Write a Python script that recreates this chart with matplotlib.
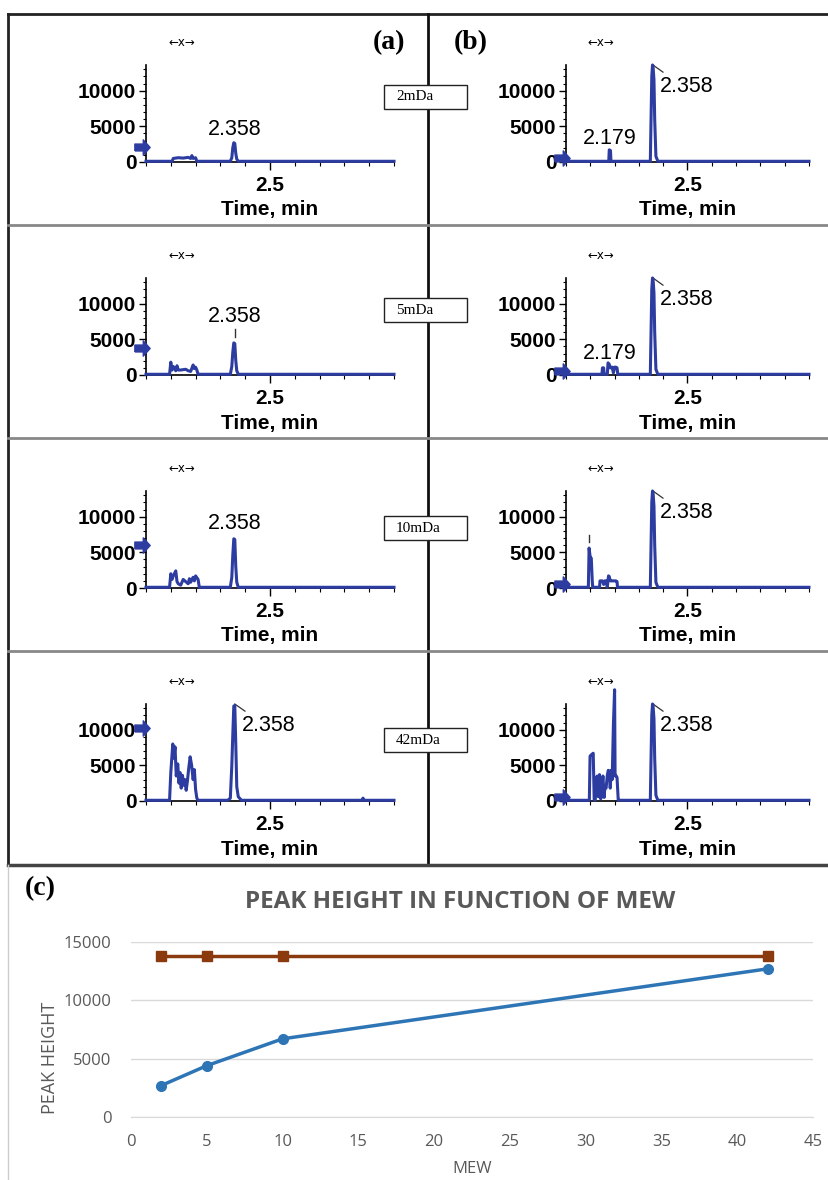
import matplotlib
matplotlib.use("Agg")
import matplotlib.pyplot as plt
from matplotlib.patches import Rectangle
from matplotlib.ticker import MultipleLocator, FixedLocator

W, H = 829, 1180

# --- chromatogram traces (time, min / intensity, cps) ---
PEAK_T = [2.340, 2.346, 2.350, 2.354, 2.358, 2.362, 2.366, 2.372, 3.00]
PEAK_B_T = [2.347, 2.350, 2.353, 2.356, 2.358, 2.362, 2.365, 2.370, 2.378, 3.00]

T_A1 = [2.00, 2.105, 2.11, 2.13, 2.15, 2.17, 2.18, 2.185, 2.19, 2.20, 2.205] + PEAK_T
I_A1 = [100, 100, 500, 600, 550, 650, 500, 900, 500, 600, 100,
        100, 600, 2000, 2700, 2600, 1200, 400, 100, 100]

T_A2 = [2.00, 2.095, 2.10, 2.105, 2.11, 2.12, 2.125, 2.13, 2.14, 2.16, 2.17,
        2.18, 2.19, 2.195, 2.20, 2.205, 2.21] + PEAK_T
I_A2 = [100, 100, 1800, 700, 1200, 600, 1300, 700, 700, 800, 600,
        500, 1400, 900, 1100, 700, 100,
        100, 1200, 3200, 4500, 4400, 2000, 600, 100, 100]

T_A3 = [2.00, 2.095, 2.10, 2.105, 2.11, 2.12, 2.125, 2.13, 2.14, 2.15, 2.16,
        2.17, 2.175, 2.18, 2.19, 2.195, 2.20, 2.21, 2.215] + PEAK_T
I_A3 = [100, 100, 2000, 1200, 1700, 2400, 900, 600, 400, 1200, 900,
        600, 1300, 800, 1500, 1000, 1700, 1200, 100,
        100, 1500, 4600, 6900, 6800, 3000, 800, 100, 100]

T_A4 = [2.00, 2.095, 2.10, 2.108, 2.112, 2.117, 2.122, 2.128, 2.133, 2.137,
        2.142, 2.147, 2.152, 2.157, 2.162, 2.167, 2.172, 2.178, 2.184, 2.19,
        2.195, 2.20, 2.205, 2.21, 2.33, 2.34, 2.346, 2.350, 2.354, 2.358,
        2.362, 2.366, 2.372, 2.385, 2.87, 2.875, 2.88, 3.00]
I_A4 = [100, 100, 4000, 8000, 6000, 7600, 3500, 5200, 2500, 4000,
        1800, 3600, 2200, 3000, 1500, 2800, 4500, 6200, 5000, 3000,
        4400, 1600, 400, 100, 100, 400, 5000, 9300, 13300, 13400,
        8000, 2000, 600, 100, 100, 400, 100, 100]

PEAK_B_I = [100, 6000, 12000, 13600, 13500, 11500, 6000, 800, 100, 100]

T_B1 = [2.00, 2.176, 2.178, 2.183, 2.185] + PEAK_B_T
I_B1 = [100, 100, 1700, 1600, 100] + PEAK_B_I

T_B2 = [2.00, 2.148, 2.150, 2.155, 2.157, 2.170, 2.173, 2.178, 2.182, 2.19,
        2.195, 2.20, 2.205, 2.21, 2.213] + PEAK_B_T
I_B2 = [100, 100, 1000, 1000, 100, 100, 1700, 1500, 1000, 1100,
        300, 1100, 1100, 1000, 100] + PEAK_B_I

T_B3 = [2.00, 2.092, 2.095, 2.100, 2.104, 2.108, 2.11, 2.138, 2.14, 2.15,
        2.155, 2.16, 2.165, 2.17, 2.175, 2.178, 2.182, 2.19, 2.195, 2.205,
        2.21, 2.212] + PEAK_B_T
I_B3 = [100, 100, 5600, 4200, 4200, 1000, 100, 100, 1000, 1000,
        500, 1000, 1000, 100, 1700, 1600, 1000, 1000, 1000, 1000,
        900, 100] + PEAK_B_I

T_B4 = [2.00, 2.096, 2.099, 2.105, 2.112, 2.116, 2.12, 2.128, 2.133, 2.138,
        2.143, 2.147, 2.152, 2.157, 2.160, 2.165, 2.170, 2.174, 2.178, 2.182,
        2.186, 2.190, 2.195, 2.200, 2.202, 2.205, 2.210, 2.215, 2.218] + PEAK_B_T
I_B4 = [100, 100, 6300, 6500, 6700, 200, 100, 3500, 600, 3700,
        300, 1800, 3500, 500, 2000, 1800, 3600, 4300, 4200, 1800,
        4300, 3000, 10600, 15600, 3500, 3600, 3300, 100, 100] + PEAK_B_I

TRACES_A = [(T_A1, I_A1), (T_A2, I_A2), (T_A3, I_A3), (T_A4, I_A4)]
TRACES_B = [(T_B1, I_B1), (T_B2, I_B2), (T_B3, I_B3), (T_B4, I_B4)]
WINDOWS = ["2mDa", "5mDa", "10mDa", "42mDa"]
TRIGGER_A = [2100, 3800, 6000, 10200]   # blue arrow on the y axis
TRIGGER_B = [500, 500, 500, 500]
LABEL_A_Y = [4500, 8250, 9000, None]    # centred label over the peak

# --- panel (c): peak height vs mass extraction window ---
MEW = [2, 5, 10, 42]
HEIGHT_CAL = [2700, 4400, 6700, 12700]
HEIGHT_REF = [13800, 13800, 13800, 13800]

BLUE = "#2D3CA0"
SANS = "Liberation Sans"
SERIF = "Liberation Serif"


def rect(l, t, r, b):
    return [l / W, 1 - b / H, (r - l) / W, (b - t) / H]


fig = plt.figure(figsize=(W / 100, H / 100), dpi=100)
bg = fig.add_axes([0, 0, 1, 1])
bg.set_xlim(0, W)
bg.set_ylim(H, 0)
bg.axis("off")

# frame of the chromatogram block
bg.plot([8, W], [14, 14], color="#222", lw=2)
bg.plot([8, 8], [14, 865], color="#222", lw=2)
bg.plot([428, 428], [14, 865], color="#111", lw=2)
for y in (225, 438, 651):
    bg.plot([8, W], [y, y], color="#888", lw=2)
bg.plot([8, W], [865, 865], color="#444", lw=2.5)
bg.plot([8, 8], [865, H], color="#ccc", lw=1)

bg.text(389, 43, "(a)", family=SERIF, weight="bold", fontsize=20, ha="center", va="center")
bg.text(471, 43, "(b)", family=SERIF, weight="bold", fontsize=20, ha="center", va="center")
bg.text(40, 889, "(c)", family=SERIF, weight="bold", fontsize=20, ha="center", va="center")

ARROW = [(-1, -0.45), (0.1, -0.45), (0.1, -1), (1, 0), (0.1, 1), (0.1, 0.45), (-1, 0.45), (-1, -0.45)]


def chromatogram(ax, t, inten, trigger, lbl_y, leader):
    ax.set_facecolor("none")
    ax.plot(t, inten, color=BLUE, lw=2.2, clip_on=False, zorder=3)
    ax.set_xlim(2.0, 3.0)
    ax.set_ylim(0, 13600)
    for s in ("top", "right"):
        ax.spines[s].set_visible(False)
    for s in ("left", "bottom"):
        ax.spines[s].set_linewidth(1.2)
    ax.yaxis.set_major_locator(FixedLocator([0, 5000, 10000]))
    ax.yaxis.set_minor_locator(MultipleLocator(1000))
    ax.xaxis.set_major_locator(FixedLocator([2.5]))
    ax.xaxis.set_minor_locator(MultipleLocator(0.1))
    ax.tick_params(axis="y", which="major", length=5, width=1, pad=2)
    ax.tick_params(axis="y", which="minor", length=2.5, width=0.8)
    ax.tick_params(axis="x", which="major", length=6, width=1, pad=4)
    ax.tick_params(axis="x", which="minor", length=3, width=0.8)
    for lab in ax.get_xticklabels() + ax.get_yticklabels():
        lab.set_family(SANS)
        lab.set_weight("bold")
        lab.set_fontsize(15)
    ax.set_xlabel("Time, min", family=SANS, weight="bold", fontsize=15, va="center")
    ax.xaxis.set_label_coords(0.5, -48 / 97)
    ax.plot([-0.017], [trigger], transform=ax.get_yaxis_transform(), marker=ARROW,
            ms=11, color=BLUE, clip_on=False, zorder=4)
    ax.text(2.145, 1.227, "\u2190x\u2192", transform=ax.get_xaxis_transform(),
            family="DejaVu Sans", fontsize=8.5, ha="center", va="center")
    if leader:
        ax.plot([2.358, 2.399], [13600, 12600], color="#333", lw=0.9, clip_on=False)
        ax.text(2.385, 10600, "2.358", family=SANS, fontsize=15.5, ha="left", va="center")
    else:
        ax.text(2.358, lbl_y, "2.358", family=SANS, fontsize=15.5, ha="center", va="center")


for r in range(4):
    top, bot = 65 + 213 * r, 162 + 213 * r
    ax_a = fig.add_axes(rect(146, top, 394, bot))
    t, inten = TRACES_A[r]
    chromatogram(ax_a, t, inten, TRIGGER_A[r], LABEL_A_Y[r], LABEL_A_Y[r] is None)
    if r == 1:
        ax_a.plot([2.358, 2.358], [5300, 6500], color="#333", lw=1)

    ax_b = fig.add_axes(rect(566, top, 809, bot))
    t, inten = TRACES_B[r]
    chromatogram(ax_b, t, inten, TRIGGER_B[r], None, True)
    if r == 0:
        ax_b.text(2.179, 3300, "2.179", family=SANS, fontsize=15.5, ha="center", va="center")
    if r == 1:
        ax_b.text(2.179, 3000, "2.179", family=SANS, fontsize=15.5, ha="center", va="center")
    if r == 2:
        ax_b.plot([2.095, 2.095], [6500, 7400], color="#333", lw=1)

    yc = [97, 310, 528, 740][r]
    bg.add_patch(Rectangle((384, yc - 12), 83, 24, facecolor="white", edgecolor="#222", lw=1, zorder=5))
    bg.text(396, yc, WINDOWS[r], family=SERIF, fontsize=11, ha="left", va="center", zorder=6)

# --- panel (c) ---
GRAY = "#595959"
axc = fig.add_axes(rect(131, 942, 813, 1117))
axc.plot(MEW, HEIGHT_REF, color="#8B3A0E", lw=2.5, marker="s", ms=7, zorder=3)
axc.plot(MEW, HEIGHT_CAL, color="#2E75B6", lw=2.5, marker="o", ms=7, zorder=3)
axc.set_xlim(0, 45)
axc.set_ylim(0, 15000)
axc.set_xticks(range(0, 46, 5))
axc.set_yticks([0, 5000, 10000, 15000])
axc.grid(axis="y", color="#d9d9d9", lw=1)
axc.set_axisbelow(True)
for s in ("top", "right", "left"):
    axc.spines[s].set_visible(False)
axc.spines["bottom"].set_color("#d9d9d9")
axc.tick_params(length=0, labelsize=12, labelcolor=GRAY, pad=12)
axc.tick_params(axis="y", pad=14)
for lab in axc.get_xticklabels() + axc.get_yticklabels():
    lab.set_family("Open Sans")
axc.set_xlabel("MEW", family="Open Sans", fontsize=12, color=GRAY, labelpad=8)
axc.set_ylabel("PEAK HEIGHT", family="Open Sans", fontsize=13, color=GRAY, va="center")
axc.yaxis.set_label_coords(-0.119, 0.34)
bg.text(460, 902, "PEAK HEIGHT IN FUNCTION OF MEW", family="Open Sans", weight="bold",
        fontsize=17.5, color=GRAY, ha="center", va="center")

fig.savefig("out.png", dpi=100)
